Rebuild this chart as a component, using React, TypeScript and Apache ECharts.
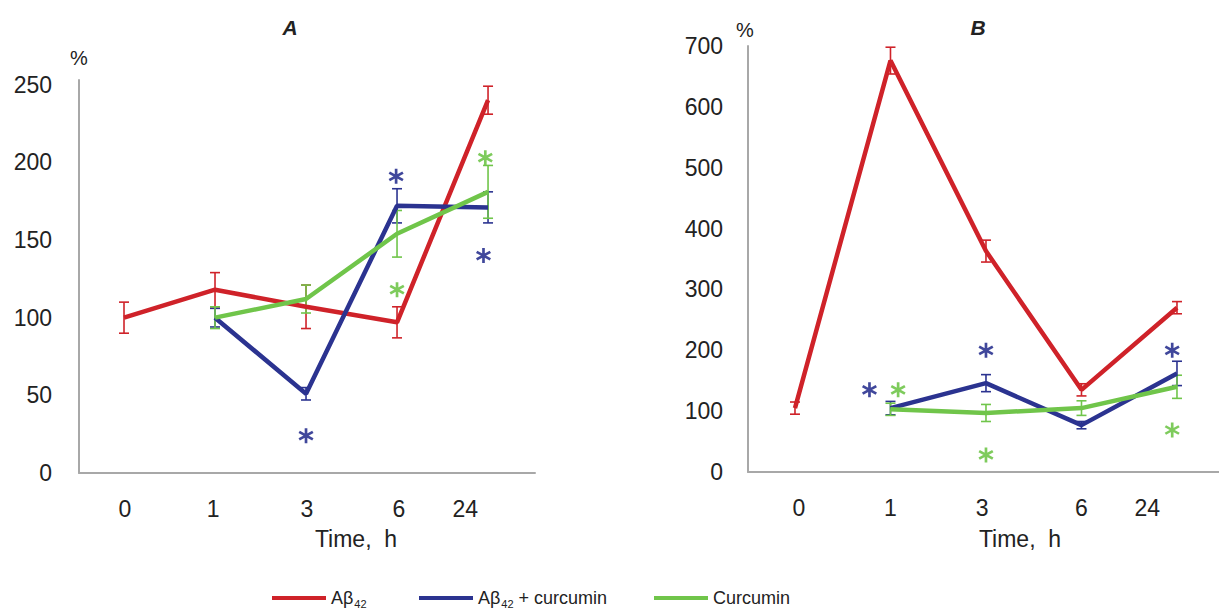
import React, { useEffect, useRef } from "react";
import * as echarts from "echarts";

// ---------- data ----------
const timeLabels = ["0", "1", "3", "6", "24"];
const xIndex = [0, 1, 2, 3, 4];
const aLabelPos = [0.01, 0.98, 2.01, 3.02, 3.75];
const bLabelPos = [0.04, 1.0, 1.96, 3.0, 3.69];
const aYTicks = [0, 50, 100, 150, 200, 250];
const bYTicks = [0, 100, 200, 300, 400, 500, 600, 700];

const seriesNames = ["Aβ42", "Aβ42 + curcumin", "Curcumin"];

// Panel A
const aAb = [100, 118, 107, 97, 240];
const aAbErr = [10, 11, 14, 10, 9];
const aAbCur = [null, 100, 51, 172, 171];
const aAbCurErr = [null, 6, 4, 11, 10];
const aCur = [null, 100, 112, 154, 181];
const aCurErr = [null, 7, 9, 15, 17];
const aStarsBlue = [[2, 24], [2.99, 191], [3.95, 140]];
const aStarsGreen = [[3, 118], [3.97, 203]];

// Panel B
const bAb = [105, 676, 363, 135, 270];
const bAbErr = [10, 22, 18, 10, 10];
const bAbCur = [null, 105, 146, 77, 162];
const bAbCurErr = [null, 11, 14, 6, 20];
const bCur = [null, 103, 97, 105, 140];
const bCurErr = [null, 10, 14, 12, 19];
const bStarsBlue = [[0.78, 135], [2, 200], [3.95, 200]];
const bStarsGreen = [[1.08, 135], [2, 28], [3.95, 69]];

// ---------- style ----------
const RED = "#cf2229";
const BLUE = "#2b3390";
const GREEN = "#70c54a";
const FONT = "'Liberation Sans', Arial, sans-serif";
const LFONT = "'Liberation Sans Narrow', 'Liberation Sans', Arial, sans-serif";

function asteriskPath(): string {
  const w = 0.17;
  let d = "";
  [90, 30, -30].forEach((deg) => {
    const t = (deg * Math.PI) / 180;
    const dx = Math.cos(t), dy = Math.sin(t);
    const nx = -dy * w, ny = dx * w;
    const pts = [
      [dx + nx, dy + ny],
      [dx - nx, dy - ny],
      [-dx - nx, -dy - ny],
      [-dx + nx, -dy + ny],
    ];
    d += "M" + pts.map((p) => (p[0] + 1).toFixed(3) + " " + (p[1] + 1).toFixed(3)).join(" L") + " Z ";
  });
  return "path://" + d;
}

function toPoints(vals: (number | null)[]) {
  const out: number[][] = [];
  vals.forEach((v, i) => {
    if (v !== null) out.push([xIndex[i], v]);
  });
  return out;
}

function toErr(vals: (number | null)[], errs: (number | null)[]) {
  const out: number[][] = [];
  vals.forEach((v, i) => {
    const e = errs[i];
    if (v !== null && e !== null) out.push([xIndex[i], v - e, v + e]);
  });
  return out;
}

function errSeries(data: number[][], color: string, axis: number) {
  return {
    type: "custom",
    name: "err",
    xAxisIndex: axis,
    yAxisIndex: axis,
    z: 2,
    data,
    renderItem: (params: any, api: any) => {
      const x = api.value(0);
      const lo = api.coord([x, api.value(1)]);
      const hi = api.coord([x, api.value(2)]);
      const hw = 5;
      const st = { stroke: color, lineWidth: 1.6 };
      return {
        type: "group",
        children: [
          { type: "line", shape: { x1: lo[0], y1: lo[1], x2: hi[0], y2: hi[1] }, style: st },
          { type: "line", shape: { x1: lo[0] - hw, y1: lo[1], x2: lo[0] + hw, y2: lo[1] }, style: st },
          { type: "line", shape: { x1: hi[0] - hw, y1: hi[1], x2: hi[0] + hw, y2: hi[1] }, style: st },
        ],
      };
    },
  };
}

function lineSeries(name: string, vals: (number | null)[], color: string, axis: number) {
  return {
    type: "line",
    name,
    xAxisIndex: axis,
    yAxisIndex: axis,
    data: toPoints(vals),
    symbol: "none",
    z: 3,
    lineStyle: { color, width: 4.5 },
    itemStyle: { color },
  };
}

function starSeries(data: number[][], color: string, axis: number) {
  return {
    type: "scatter",
    name: "star",
    xAxisIndex: axis,
    yAxisIndex: axis,
    data,
    symbol: asteriskPath(),
    symbolSize: 15,
    z: 4,
    itemStyle: { color, opacity: 0.9 },
  };
}

function labelFor(v: number, pos: number[]) {
  let best = 0;
  pos.forEach((p, i) => {
    if (Math.abs(p - v) < Math.abs(pos[best] - v)) best = i;
  });
  return Math.abs(pos[best] - v) < 0.05 ? timeLabels[best] : "";
}

const axisLineStyle = { show: true, onZero: false, lineStyle: { color: "#a8a8a8", width: 2 } };

function xAxisFor(grid: number, min: number, max: number, labelPos: number[]) {
  return {
    type: "value",
    gridIndex: grid,
    min,
    max,
    splitLine: { show: false },
    axisTick: { show: false },
    axisLine: axisLineStyle,
    axisLabel: {
      show: true,
      customValues: labelPos,
      formatter: (v: number) => labelFor(v, labelPos),
      showMinLabel: true,
      showMaxLabel: true,
      hideOverlap: false,
      margin: 24,
      fontSize: 23,
      color: "#222",
      fontFamily: FONT,
    },
  };
}

function yAxisFor(grid: number, max: number, ticks: number[], margin: number) {
  return {
    type: "value",
    gridIndex: grid,
    min: 0,
    max,
    splitLine: { show: false },
    axisTick: { show: false },
    axisLine: axisLineStyle,
    axisLabel: {
      customValues: ticks,
      margin,
      fontSize: 23,
      color: "#222",
      fontFamily: FONT,
    },
  };
}

function legendFor(name: string, left: number) {
  const fmt: Record<string, string> = {
    "Aβ42": "{t|Aβ}{s|42}",
    "Aβ42 + curcumin": "{t|Aβ}{s|42}{t| + curcumin}",
    "Curcumin": "{t|Curcumin}",
  };
  return {
    data: [name],
    top: 584,
    left,
    itemWidth: 54,
    itemHeight: 4,
    itemGap: 10,
    icon: "rect",
    selectedMode: false,
    formatter: (n: string) => fmt[n] || n,
    textStyle: {
      color: "#222",
      fontFamily: LFONT,
      fontSize: 18,
      rich: {
        t: { fontSize: 18, fontFamily: LFONT, color: "#222" },
        s: { fontSize: 11, padding: [12, 0, 0, 1], fontFamily: LFONT, color: "#222" },
      },
    },
  };
}

export default function App() {
  const ref = useRef<HTMLDivElement>(null);
  useEffect(() => {
    if (!ref.current) return;
    const chart = echarts.init(ref.current, null, { renderer: "svg" });
    chart.setOption({
      animation: false,
      backgroundColor: "#ffffff",
      grid: [
        { left: 79, top: 80, width: 456, height: 393, outerBoundsMode: "none" },
        { left: 748, top: 46, width: 471, height: 426, outerBoundsMode: "none" },
      ],
      xAxis: [
        xAxisFor(0, -0.4945, 4.516, aLabelPos),
        xAxisFor(1, -0.492, 4.44, bLabelPos),
      ],
      yAxis: [yAxisFor(0, 253, aYTicks, 27), yAxisFor(1, 700, bYTicks, 25)],
      legend: [
        legendFor(seriesNames[0], 267),
        legendFor(seriesNames[1], 414),
        legendFor(seriesNames[2], 649),
      ],
      graphic: [
        { type: "text", x: 290, y: 27, style: { text: "A", font: "italic bold 21px " + FONT, fill: "#222", align: "center", verticalAlign: "middle" } },
        { type: "text", x: 978, y: 27, style: { text: "B", font: "italic bold 21px " + FONT, fill: "#222", align: "center", verticalAlign: "middle" } },
        { type: "text", x: 79, y: 58, style: { text: "%", font: "20px " + FONT, fill: "#222", align: "center", verticalAlign: "middle" } },
        { type: "text", x: 745, y: 30, style: { text: "%", font: "20px " + FONT, fill: "#222", align: "center", verticalAlign: "middle" } },
        { type: "text", x: 356, y: 539, style: { text: "Time,  h", font: "23px " + FONT, fill: "#222", align: "center", verticalAlign: "middle" } },
        { type: "text", x: 1020, y: 539, style: { text: "Time,  h", font: "23px " + FONT, fill: "#222", align: "center", verticalAlign: "middle" } },
      ],
      series: [
        errSeries(toErr(aAb, aAbErr), RED, 0),
        errSeries(toErr(aAbCur, aAbCurErr), BLUE, 0),
        errSeries(toErr(aCur, aCurErr), GREEN, 0),
        lineSeries(seriesNames[0], aAb, RED, 0),
        lineSeries(seriesNames[1], aAbCur, BLUE, 0),
        lineSeries(seriesNames[2], aCur, GREEN, 0),
        starSeries(aStarsBlue, BLUE, 0),
        starSeries(aStarsGreen, GREEN, 0),
        errSeries(toErr(bAb, bAbErr), RED, 1),
        errSeries(toErr(bAbCur, bAbCurErr), BLUE, 1),
        errSeries(toErr(bCur, bCurErr), GREEN, 1),
        lineSeries(seriesNames[0], bAb, RED, 1),
        lineSeries(seriesNames[1], bAbCur, BLUE, 1),
        lineSeries(seriesNames[2], bCur, GREEN, 1),
        starSeries(bStarsBlue, BLUE, 1),
        starSeries(bStarsGreen, GREEN, 1),
      ],
    });
    return () => chart.dispose();
  }, []);
  return (
    <div
      ref={ref}
      style={{ position: "fixed", left: 0, top: 0, width: 1219, height: 612 }}
    />
  );
}
